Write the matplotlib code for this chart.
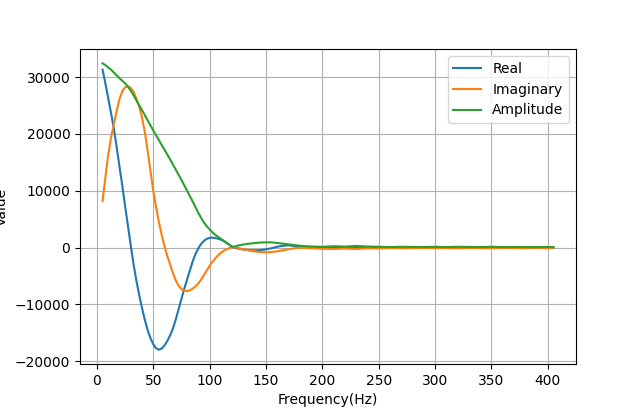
import matplotlib
matplotlib.use("Agg")
import matplotlib.pyplot as plt

# frequency axis (Hz): fine steps where the curves move, coarser in the tail
freq = ([5 + 2.5 * i for i in range(51)] + list(range(135, 181, 5))
        + list(range(190, 401, 10)) + [405])

real = [31300, 28900, 26300, 23700, 21000, 17700, 14300, 10900, 7300, 3900,
        400, -2900, -5800, -8300, -10600, -12700, -14500, -15900, -17000, -17700,
        -17950, -17750, -17200, -16400, -15400, -14200, -12600, -10800, -9000, -7200,
        -5600, -4000, -2400, -1100, -100, 650, 1200, 1550, 1720, 1760,
        1680, 1560, 1400, 1150, 850, 500, 150, -50, -150, -250,
        -330,
        -440, -480, -430, -300, -100, 150, 330, 400, 300, 150,
        60, 30, 80, 20, 100, 40, 60, 20, 50, 30, 40, 20, 30, 10, 20, 30, 10, 20,
        10, 20, 10, 30, 10]

imag = [8200, 12300, 16300, 19300, 21700, 24000, 26100, 27500, 28200, 28400,
        28100, 27400, 26200, 24800, 22900, 20300, 17000, 13500, 10000, 7100,
        4500, 2200, 200, -1500, -3000, -4500, -5800, -6700, -7300, -7600,
        -7650, -7500, -7200, -6800, -6300, -5600, -4800, -4000, -3200, -2500,
        -1900, -1350, -900, -550, -300, -80, 80, 50, -50, -170,
        -300,
        -500, -680, -780, -820, -760, -640, -480, -300, -120, -20,
        -100, -200, -250, -150, -250, -100, -150, -50, -100, -80, -50, -100, -60,
        -120, -50, -80, -100, -50, -60, -100, -50, -80, -60]

amp = [32400, 32100, 31700, 31300, 30800, 30300, 29800, 29350, 28900, 28300,
       27600, 26800, 25900, 25050, 24200, 23300, 22400, 21500, 20600, 19750,
       18900, 18050, 17200, 16350, 15500, 14600, 13700, 12800, 11900, 10950,
       10000, 9050, 8100, 7100, 6100, 5200, 4400, 3750, 3200, 2700,
       2250, 1900, 1550, 1200, 850, 500, 150, 200, 350, 450,
       550,
       700, 800, 900, 930, 920, 820, 700, 580, 450, 320,
       200, 150, 250, 180, 300, 200, 150, 100, 150, 120, 100, 150, 100, 150,
       120, 100, 150, 100, 120, 100, 90, 120, 80]

fig, ax = plt.subplots(figsize=(6.4, 4.09), dpi=100)
ax.plot(freq, real, label="Real")
ax.plot(freq, imag, label="Imaginary")
ax.plot(freq, amp, label="Amplitude")
ax.set_xlabel("Frequency(Hz)")
ax.set_ylabel("Value")
ax.grid(True)
ax.legend(loc="upper right")

fig.savefig("out.png", dpi=100)
